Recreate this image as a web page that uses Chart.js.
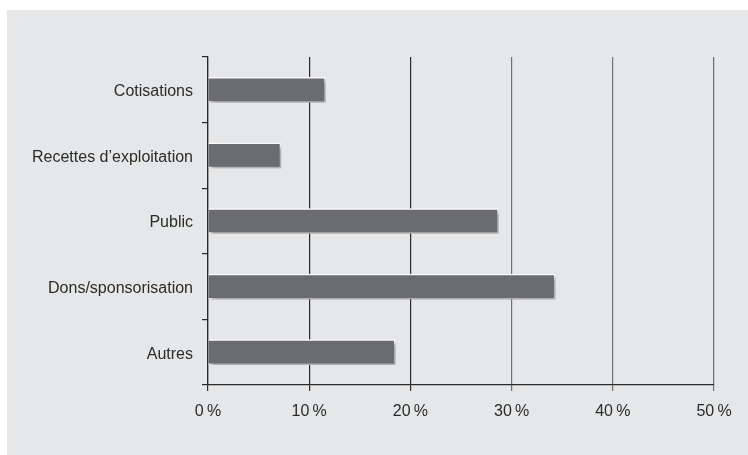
<!DOCTYPE html>
<html>
<head>
<meta charset="utf-8">
<title>Sources de financement</title>
<script src="https://cdn.jsdelivr.net/npm/chart.js@4.4.1/dist/chart.umd.min.js"></script>
<style>
  html, body { margin: 0; padding: 0; background: #fff; }
  #wrap { width: 748px; height: 455px; position: relative; }
</style>
</head>
<body>
<div id="wrap"><canvas id="chart"></canvas></div>
<script>
// categories and shares (%)
const categories = ["Cotisations", "Recettes d\u2019exploitation", "Public", "Dons/sponsorisation", "Autres"];
const shares = [11.6, 7.2, 28.7, 34.3, 18.5];
const tickValues = [0, 10, 20, 30, 40, 50];

// grey panel behind the chart
const panelBg = {
    id: "panelBg",
    beforeDraw(chart) {
        const ctx = chart.ctx;
        ctx.save();
        ctx.fillStyle = "#fff";
        ctx.fillRect(0, 0, chart.width, chart.height);
        ctx.fillStyle = "#e6e7e8";
        ctx.fillRect(7, 10, chart.width - 7, chart.height - 10);
        ctx.restore();
    }
};

// soft drop shadow under the bars
const barShadow = {
    id: "barShadow",
    beforeDatasetDraw(chart) {
        const ctx = chart.ctx;
        ctx.save();
        ctx.shadowColor = "rgba(0,0,0,0.35)";
        ctx.shadowBlur = 4;
        ctx.shadowOffsetX = 3;
        ctx.shadowOffsetY = 3;
    },
    afterDatasetDraw(chart) {
        chart.ctx.restore();
    }
};

const font = { family: "'Liberation Sans', Arial, sans-serif", size: 16 };

new Chart(document.getElementById("chart"), {
    type: "bar",
    data: {
        labels: categories,
        datasets: [{
            data: shares,
            backgroundColor: "#6b6c70",
            borderColor: "#ffffff",
            borderWidth: 1.5,
            barThickness: 25
        }]
    },
    options: {
        indexAxis: "y",
        responsive: true,
        maintainAspectRatio: false,
        animation: false,
        layout: { padding: { left: 0, top: 57, right: 34, bottom: 0 } },
        plugins: { legend: { display: false }, tooltip: { enabled: false } },
        scales: {
            x: {
                min: 0,
                max: 50,
                afterBuildTicks: (scale) => { scale.ticks = tickValues.map(v => ({ value: v })); },
                afterFit: (scale) => { scale.height = 70; },
                border: { color: "#2a2a2a", width: 1.2 },
                grid: {
                    color: (c) => c.index <= 2 ? "#2a2a2a" : "#707070",
                    lineWidth: 1.2,
                    tickLength: 6
                },
                ticks: {
                    color: "#2b2b2b",
                    font: font,
                    padding: 11,
                    callback: (v) => v + "\u2009%"
                }
            },
            y: {
                afterFit: (scale) => { scale.width = 208; },
                border: { color: "#2a2a2a", width: 1.2 },
                grid: {
                    drawOnChartArea: false,
                    color: "#2a2a2a",
                    lineWidth: 1.2,
                    tickLength: 6,
                    offset: true
                },
                ticks: {
                    color: "#2b2b2b",
                    font: font,
                    padding: 9,
                    labelOffset: 2
                }
            }
        }
    },
    plugins: [panelBg, barShadow]
});
</script>
</body>
</html>
